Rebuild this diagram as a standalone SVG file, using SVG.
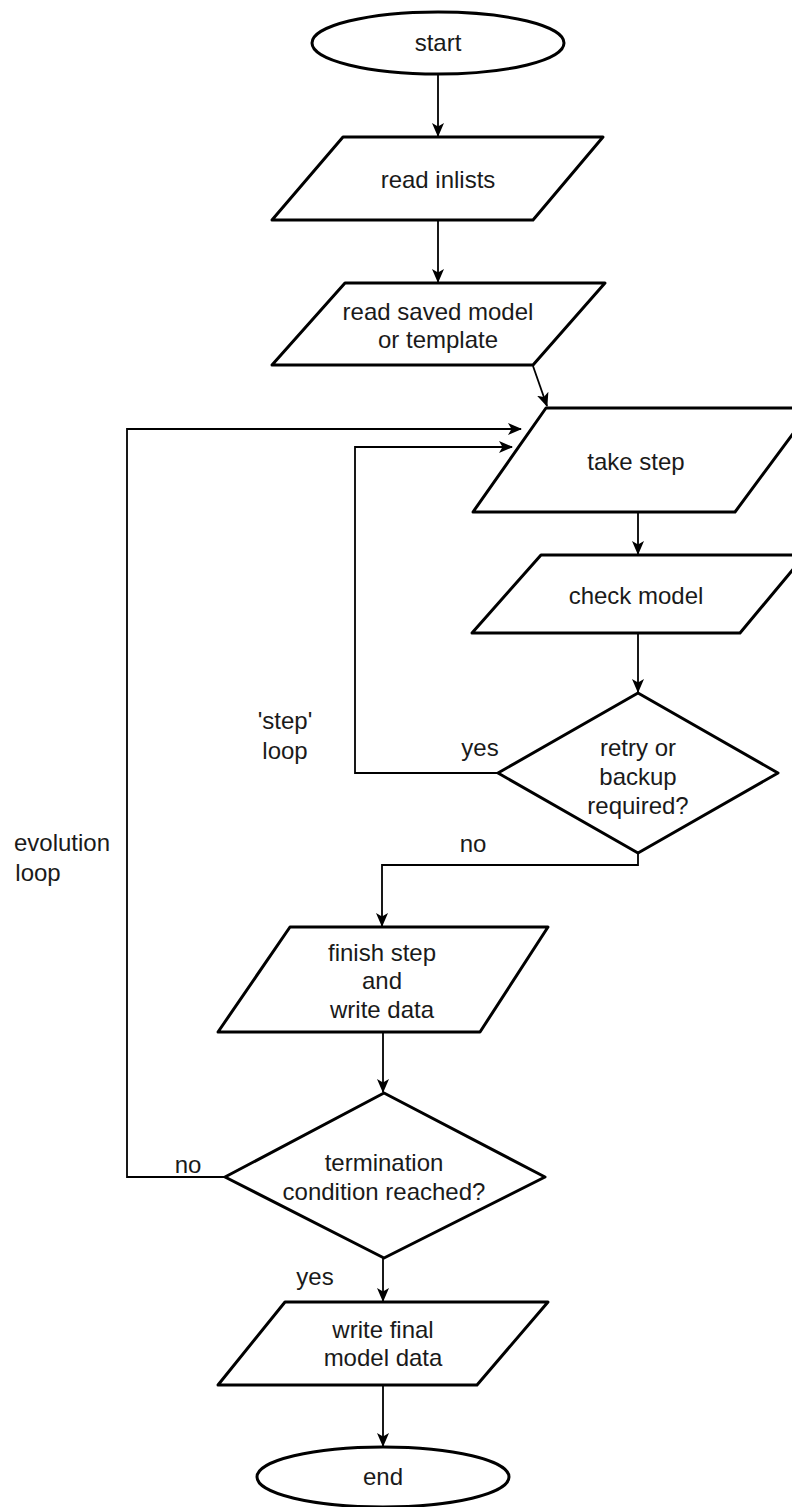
<svg xmlns="http://www.w3.org/2000/svg" width="792" height="1507" viewBox="0 0 792 1507">
<style>
.shape{fill:#fff;stroke:#000;stroke-width:3;stroke-linejoin:round}
.conn{fill:none;stroke:#000;stroke-width:1.8}
text{font-family:"Liberation Sans",Arial,sans-serif;font-size:24px;fill:#1a1a1a;text-anchor:middle}
</style>
<defs>
<marker id="arr" viewBox="0 0 14 12" refX="13" refY="6" markerWidth="14" markerHeight="12" markerUnits="userSpaceOnUse" orient="auto">
<path d="M0,0 L14,6 L0,12 L3.5,6 z" fill="#000"/>
</marker>
</defs>
<rect width="792" height="1507" fill="#fff"/>
<g id="connectors">
<line class="conn" x1="438" y1="75" x2="438" y2="136" marker-end="url(#arr)"/>
<line class="conn" x1="438" y1="220" x2="438" y2="282" marker-end="url(#arr)"/>
<line class="conn" x1="533" y1="366" x2="547" y2="406" marker-end="url(#arr)"/>
<line class="conn" x1="638" y1="512" x2="638" y2="554" marker-end="url(#arr)"/>
<line class="conn" x1="638" y1="633" x2="638" y2="692" marker-end="url(#arr)"/>
<polyline class="conn" points="498,773 355,773 355,447 512,447" marker-end="url(#arr)"/>
<polyline class="conn" points="638,853 638,865 382,865 382,926" marker-end="url(#arr)"/>
<line class="conn" x1="383" y1="1032" x2="383" y2="1092" marker-end="url(#arr)"/>
<polyline class="conn" points="225,1177 127,1177 127,429 521,429" marker-end="url(#arr)"/>
<line class="conn" x1="383" y1="1258" x2="383" y2="1301" marker-end="url(#arr)"/>
<line class="conn" x1="383" y1="1385" x2="383" y2="1446" marker-end="url(#arr)"/>
<text x="480" y="756">yes</text>
<text x="473" y="852">no</text>
<text x="188" y="1173">no</text>
<text x="315" y="1285">yes</text>
<text x="285" y="729">'step'</text>
<text x="285" y="759">loop</text>
<text x="62" y="851">evolution</text>
<text x="38" y="881">loop</text>
</g>
<g id="start">
<ellipse class="shape" cx="438" cy="43" rx="126" ry="31"/>
<text x="438" y="51">start</text>
</g>
<g id="read-inlists">
<polygon class="shape" points="343,137 603,137 533,220 272,220"/>
<text x="438" y="188">read inlists</text>
</g>
<g id="read-saved">
<polygon class="shape" points="345,283 605,283 533,365 272,365"/>
<text x="438" y="320">read saved model</text>
<text x="438" y="348">or template</text>
</g>
<g id="take-step">
<polygon class="shape" points="546,408 812,408 735,512 473,512"/>
<text x="636" y="470">take step</text>
</g>
<g id="check-model">
<polygon class="shape" points="541,555 805,555 740,633 472,633"/>
<text x="636" y="604">check model</text>
</g>
<g id="retry">
<polygon class="shape" points="638,693 778,773 638,853 498,773"/>
<text x="638" y="756">retry or</text>
<text x="638" y="785">backup</text>
<text x="638" y="814">required?</text>
</g>
<g id="finish-step">
<polygon class="shape" points="290,927 548,927 480,1032 218,1032"/>
<text x="382" y="961">finish step</text>
<text x="382" y="989">and</text>
<text x="382" y="1018">write data</text>
</g>
<g id="termination">
<polygon class="shape" points="384,1093 545,1177 384,1258 225,1177"/>
<text x="384" y="1171">termination</text>
<text x="384" y="1200">condition reached?</text>
</g>
<g id="write-final">
<polygon class="shape" points="285,1302 548,1302 477,1385 218,1385"/>
<text x="383" y="1338">write final</text>
<text x="383" y="1366">model data</text>
</g>
<g id="end">
<ellipse class="shape" cx="383" cy="1477" rx="126" ry="30"/>
<text x="383" y="1485">end</text>
</g>
</svg>
